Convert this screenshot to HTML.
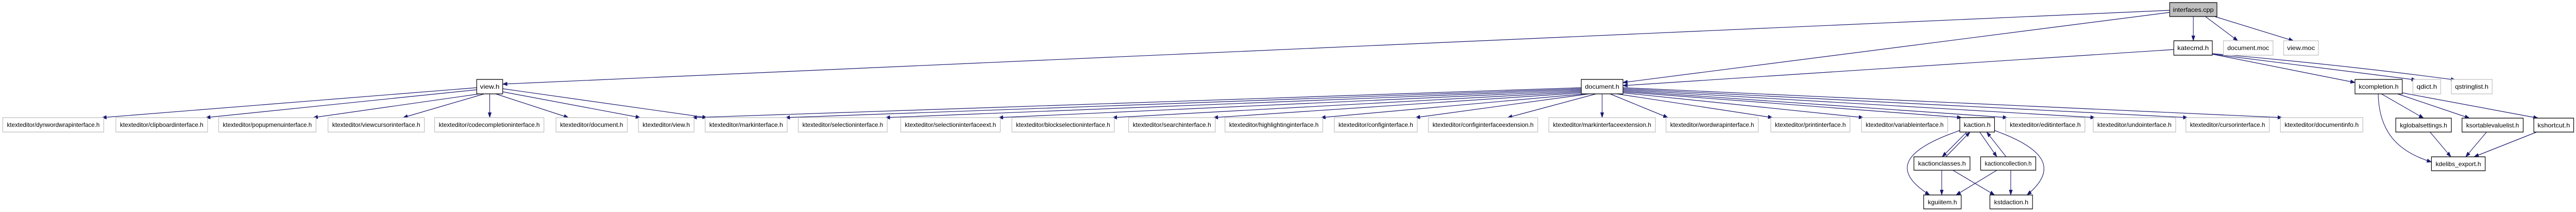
<!DOCTYPE html>
<html><head><meta charset="utf-8"><style>
html,body{margin:0;padding:0;background:#fff;width:100%;height:100%;overflow:hidden;}
svg{display:block;width:100%;height:100%;}
text{font-family:"Liberation Sans",sans-serif;font-size:12px;fill:#000;}
.b{fill:#fff;stroke:#000;stroke-width:1.3;}
.g{fill:#fff;stroke:#bfbfbf;stroke-width:1.3;}
.e{stroke:#191970;stroke-width:1.2;fill:none;marker-end:url(#a);}
</style></head><body>
<svg width="100%" height="100%" viewBox="0 0 5560 411" preserveAspectRatio="none" xmlns="http://www.w3.org/2000/svg">
<defs><marker id="a" markerUnits="userSpaceOnUse" markerWidth="11" markerHeight="8" refX="10" refY="4" orient="auto"><path d="M0,0 L11,4 L0,8 z" fill="#191970"/></marker></defs>

<g>
<line class="e" x1="4734" y1="32" x2="4734" y2="79"/>
<line class="e" x1="4760" y1="32" x2="4830" y2="79"/>
<line class="e" x1="4780" y1="32" x2="4950" y2="79"/>
<line class="e" x1="4683" y1="20" x2="1085" y2="163"/>
<line class="e" x1="4683" y1="24" x2="3503" y2="160"/>
<line class="e" x1="4692" y1="96" x2="3503" y2="166"/>
<line class="e" x1="4775" y1="105" x2="5083" y2="160"/>
<path class="e" d="M4775,105 Q5000,130 5215,155"/>
<path class="e" d="M4775,104 Q5050,125 5300,155"/>

<line class="e" x1="5140" y1="182" x2="5231" y2="229"/>
<line class="e" x1="5175" y1="182" x2="5330" y2="229"/>
<line class="e" x1="5185" y1="180" x2="5478" y2="229"/>
<path class="e" d="M5133,182 C5135,260 5180,295 5248,314"/>
<line class="e" x1="5245" y1="256" x2="5290" y2="304"/>
<line class="e" x1="5367" y1="256" x2="5322" y2="304"/>
<line class="e" x1="5475" y1="256" x2="5340" y2="304"/>

<line class="e" x1="4245" y1="256" x2="4192" y2="304"/>
<line class="e" x1="4200" y1="304" x2="4252" y2="256"/>
<line class="e" x1="4273" y1="256" x2="4310" y2="304"/>
<line class="e" x1="4330" y1="304" x2="4288" y2="256"/>
<path class="e" d="M4230,253 C4110,290 4080,330 4165,378"/>
<path class="e" d="M4305,253 C4420,290 4440,330 4375,378"/>
<line class="e" x1="4191" y1="330" x2="4191" y2="378"/>
<line class="e" x1="4215" y1="330" x2="4305" y2="378"/>
<line class="e" x1="4310" y1="330" x2="4222" y2="378"/>
<line class="e" x1="4340" y1="330" x2="4340" y2="378"/>

<line class="e" x1="1029" y1="170" x2="220" y2="228"/>
<line class="e" x1="1029" y1="174" x2="444" y2="228"/>
<line class="e" x1="1035" y1="182" x2="676" y2="228"/>
<line class="e" x1="1045" y1="182" x2="870" y2="228"/>
<line class="e" x1="1057" y1="182" x2="1057" y2="228"/>
<line class="e" x1="1070" y1="182" x2="1227" y2="228"/>
<line class="e" x1="1085" y1="178" x2="1382" y2="228"/>
<line class="e" x1="1085" y1="172" x2="1526" y2="228"/>

<line class="e" x1="3413" y1="170" x2="1494" y2="228"/>
<line class="e" x1="3413" y1="172" x2="1695" y2="228"/>
<line class="e" x1="3413" y1="174" x2="1911" y2="228"/>
<line class="e" x1="3413" y1="176" x2="2155" y2="228"/>
<line class="e" x1="3413" y1="178" x2="2401" y2="228"/>
<line class="e" x1="3413" y1="180" x2="2619" y2="228"/>
<line class="e" x1="3420" y1="182" x2="2851" y2="228"/>
<line class="e" x1="3430" y1="182" x2="3055" y2="228"/>
<line class="e" x1="3445" y1="182" x2="3254" y2="228"/>
<line class="e" x1="3458" y1="182" x2="3458" y2="228"/>
<line class="e" x1="3475" y1="182" x2="3600" y2="228"/>
<line class="e" x1="3490" y1="182" x2="3826" y2="228"/>
<line class="e" x1="3503" y1="180" x2="4022" y2="228"/>
<line class="e" x1="3503" y1="178" x2="4234" y2="228"/>
<line class="e" x1="3503" y1="176" x2="4333" y2="228"/>
<line class="e" x1="3503" y1="174" x2="4522" y2="228"/>
<line class="e" x1="3503" y1="172" x2="4722" y2="228"/>
<line class="e" x1="3503" y1="170" x2="4926" y2="228"/>
</g>

<g>
<rect x="4683" y="5" width="102" height="27" fill="#bfbfbf" stroke="#000" stroke-width="1.3"/><text x="4734" y="23" text-anchor="middle" textLength="88" lengthAdjust="spacingAndGlyphs">interfaces.cpp</text>

<rect class="b" x="4692" y="79" width="83" height="28"/><text x="4733.5" y="97" text-anchor="middle" textLength="68" lengthAdjust="spacingAndGlyphs">katecmd.h</text>
<rect class="g" x="4799" y="79" width="107" height="28"/><text x="4852.5" y="97" text-anchor="middle" textLength="90" lengthAdjust="spacingAndGlyphs">document.moc</text>
<rect class="g" x="4929" y="79" width="75" height="28"/><text x="4966.5" y="97" text-anchor="middle" textLength="60" lengthAdjust="spacingAndGlyphs">view.moc</text>

<rect class="b" x="1029" y="154" width="56" height="28"/><text x="1057" y="172" text-anchor="middle" textLength="42" lengthAdjust="spacingAndGlyphs">view.h</text>
<rect class="b" x="3413" y="154" width="90" height="28"/><text x="3458" y="172" text-anchor="middle" textLength="74" lengthAdjust="spacingAndGlyphs">document.h</text>
<rect class="b" x="5083" y="154" width="102" height="28"/><text x="5134" y="172" text-anchor="middle" textLength="86" lengthAdjust="spacingAndGlyphs">kcompletion.h</text>
<rect class="g" x="5208" y="154" width="60" height="28"/><text x="5238" y="172" text-anchor="middle" textLength="44" lengthAdjust="spacingAndGlyphs">qdict.h</text>
<rect class="g" x="5291" y="154" width="88" height="28"/><text x="5335" y="172" text-anchor="middle" textLength="72" lengthAdjust="spacingAndGlyphs">qstringlist.h</text>

<rect class="g" x="6" y="228" width="218" height="28"/><text x="115" y="246" text-anchor="middle" textLength="200" lengthAdjust="spacingAndGlyphs">ktexteditor/dynwordwrapinterface.h</text>
<rect class="g" x="250" y="228" width="198" height="28"/><text x="349" y="246" text-anchor="middle" textLength="180" lengthAdjust="spacingAndGlyphs">ktexteditor/clipboardinterface.h</text>
<rect class="g" x="472" y="228" width="210" height="28"/><text x="577" y="246" text-anchor="middle" textLength="192" lengthAdjust="spacingAndGlyphs">ktexteditor/popupmenuinterface.h</text>
<rect class="g" x="708" y="228" width="208" height="28"/><text x="812" y="246" text-anchor="middle" textLength="190" lengthAdjust="spacingAndGlyphs">ktexteditor/viewcursorinterface.h</text>
<rect class="g" x="938" y="228" width="236" height="28"/><text x="1056" y="246" text-anchor="middle" textLength="218" lengthAdjust="spacingAndGlyphs">ktexteditor/codecompletioninterface.h</text>
<rect class="g" x="1200" y="228" width="154" height="28"/><text x="1277" y="246" text-anchor="middle" textLength="136" lengthAdjust="spacingAndGlyphs">ktexteditor/document.h</text>
<rect class="g" x="1378" y="228" width="120" height="28"/><text x="1438" y="246" text-anchor="middle" textLength="102" lengthAdjust="spacingAndGlyphs">ktexteditor/view.h</text>
<rect class="g" x="1522" y="228" width="177" height="28"/><text x="1610.5" y="246" text-anchor="middle" textLength="159" lengthAdjust="spacingAndGlyphs">ktexteditor/markinterface.h</text>
<rect class="g" x="1723" y="228" width="192" height="28"/><text x="1819" y="246" text-anchor="middle" textLength="174" lengthAdjust="spacingAndGlyphs">ktexteditor/selectioninterface.h</text>
<rect class="g" x="1944" y="228" width="215" height="28"/><text x="2051.5" y="246" text-anchor="middle" textLength="197" lengthAdjust="spacingAndGlyphs">ktexteditor/selectioninterfaceext.h</text>
<rect class="g" x="2184" y="228" width="221" height="28"/><text x="2294.5" y="246" text-anchor="middle" textLength="203" lengthAdjust="spacingAndGlyphs">ktexteditor/blockselectioninterface.h</text>
<rect class="g" x="2436" y="228" width="187" height="28"/><text x="2529.5" y="246" text-anchor="middle" textLength="169" lengthAdjust="spacingAndGlyphs">ktexteditor/searchinterface.h</text>
<rect class="g" x="2644" y="228" width="211" height="28"/><text x="2749.5" y="246" text-anchor="middle" textLength="193" lengthAdjust="spacingAndGlyphs">ktexteditor/highlightinginterface.h</text>
<rect class="g" x="2880" y="228" width="179" height="28"/><text x="2969.5" y="246" text-anchor="middle" textLength="161" lengthAdjust="spacingAndGlyphs">ktexteditor/configinterface.h</text>
<rect class="g" x="3083" y="228" width="236" height="28"/><text x="3201" y="246" text-anchor="middle" textLength="218" lengthAdjust="spacingAndGlyphs">ktexteditor/configinterfaceextension.h</text>
<rect class="g" x="3343" y="228" width="230" height="28"/><text x="3458" y="246" text-anchor="middle" textLength="212" lengthAdjust="spacingAndGlyphs">ktexteditor/markinterfaceextension.h</text>
<rect class="g" x="3596" y="228" width="199" height="28"/><text x="3695.5" y="246" text-anchor="middle" textLength="181" lengthAdjust="spacingAndGlyphs">ktexteditor/wordwrapinterface.h</text>
<rect class="g" x="3822" y="228" width="171" height="28"/><text x="3907.5" y="246" text-anchor="middle" textLength="153" lengthAdjust="spacingAndGlyphs">ktexteditor/printinterface.h</text>
<rect class="g" x="4018" y="228" width="186" height="28"/><text x="4111" y="246" text-anchor="middle" textLength="168" lengthAdjust="spacingAndGlyphs">ktexteditor/variableinterface.h</text>
<rect class="b" x="4230" y="228" width="75" height="28"/><text x="4267.5" y="246" text-anchor="middle" textLength="58" lengthAdjust="spacingAndGlyphs">kaction.h</text>
<rect class="g" x="4329" y="228" width="171" height="28"/><text x="4414.5" y="246" text-anchor="middle" textLength="153" lengthAdjust="spacingAndGlyphs">ktexteditor/editinterface.h</text>
<rect class="g" x="4518" y="228" width="178" height="28"/><text x="4607" y="246" text-anchor="middle" textLength="160" lengthAdjust="spacingAndGlyphs">ktexteditor/undointerface.h</text>
<rect class="g" x="4718" y="228" width="180" height="28"/><text x="4808" y="246" text-anchor="middle" textLength="162" lengthAdjust="spacingAndGlyphs">ktexteditor/cursorinterface.h</text>
<rect class="g" x="4922" y="228" width="178" height="28"/><text x="5011" y="246" text-anchor="middle" textLength="160" lengthAdjust="spacingAndGlyphs">ktexteditor/documentinfo.h</text>
<rect class="b" x="5171" y="229" width="120" height="27"/><text x="5231" y="247" text-anchor="middle" textLength="102" lengthAdjust="spacingAndGlyphs">kglobalsettings.h</text>
<rect class="b" x="5314" y="229" width="132" height="27"/><text x="5380" y="247" text-anchor="middle" textLength="114" lengthAdjust="spacingAndGlyphs">ksortablevaluelist.h</text>
<rect class="b" x="5469" y="229" width="86" height="27"/><text x="5512" y="247" text-anchor="middle" textLength="70" lengthAdjust="spacingAndGlyphs">kshortcut.h</text>

<rect class="b" x="4131" y="304" width="121" height="26"/><text x="4191.5" y="321" text-anchor="middle" textLength="103" lengthAdjust="spacingAndGlyphs">kactionclasses.h</text>
<rect class="b" x="4275" y="304" width="119" height="26"/><text x="4334.5" y="321" text-anchor="middle" textLength="101" lengthAdjust="spacingAndGlyphs">kactioncollection.h</text>
<rect class="b" x="5248" y="304" width="116" height="27"/><text x="5306" y="322" text-anchor="middle" textLength="98" lengthAdjust="spacingAndGlyphs">kdelibs_export.h</text>
<rect class="b" x="4152" y="378" width="81" height="27"/><text x="4192.5" y="396" text-anchor="middle" textLength="63" lengthAdjust="spacingAndGlyphs">kguiitem.h</text>
<rect class="b" x="4295" y="378" width="92" height="27"/><text x="4341" y="396" text-anchor="middle" textLength="74" lengthAdjust="spacingAndGlyphs">kstdaction.h</text>
</g>
</svg>
</body></html>
